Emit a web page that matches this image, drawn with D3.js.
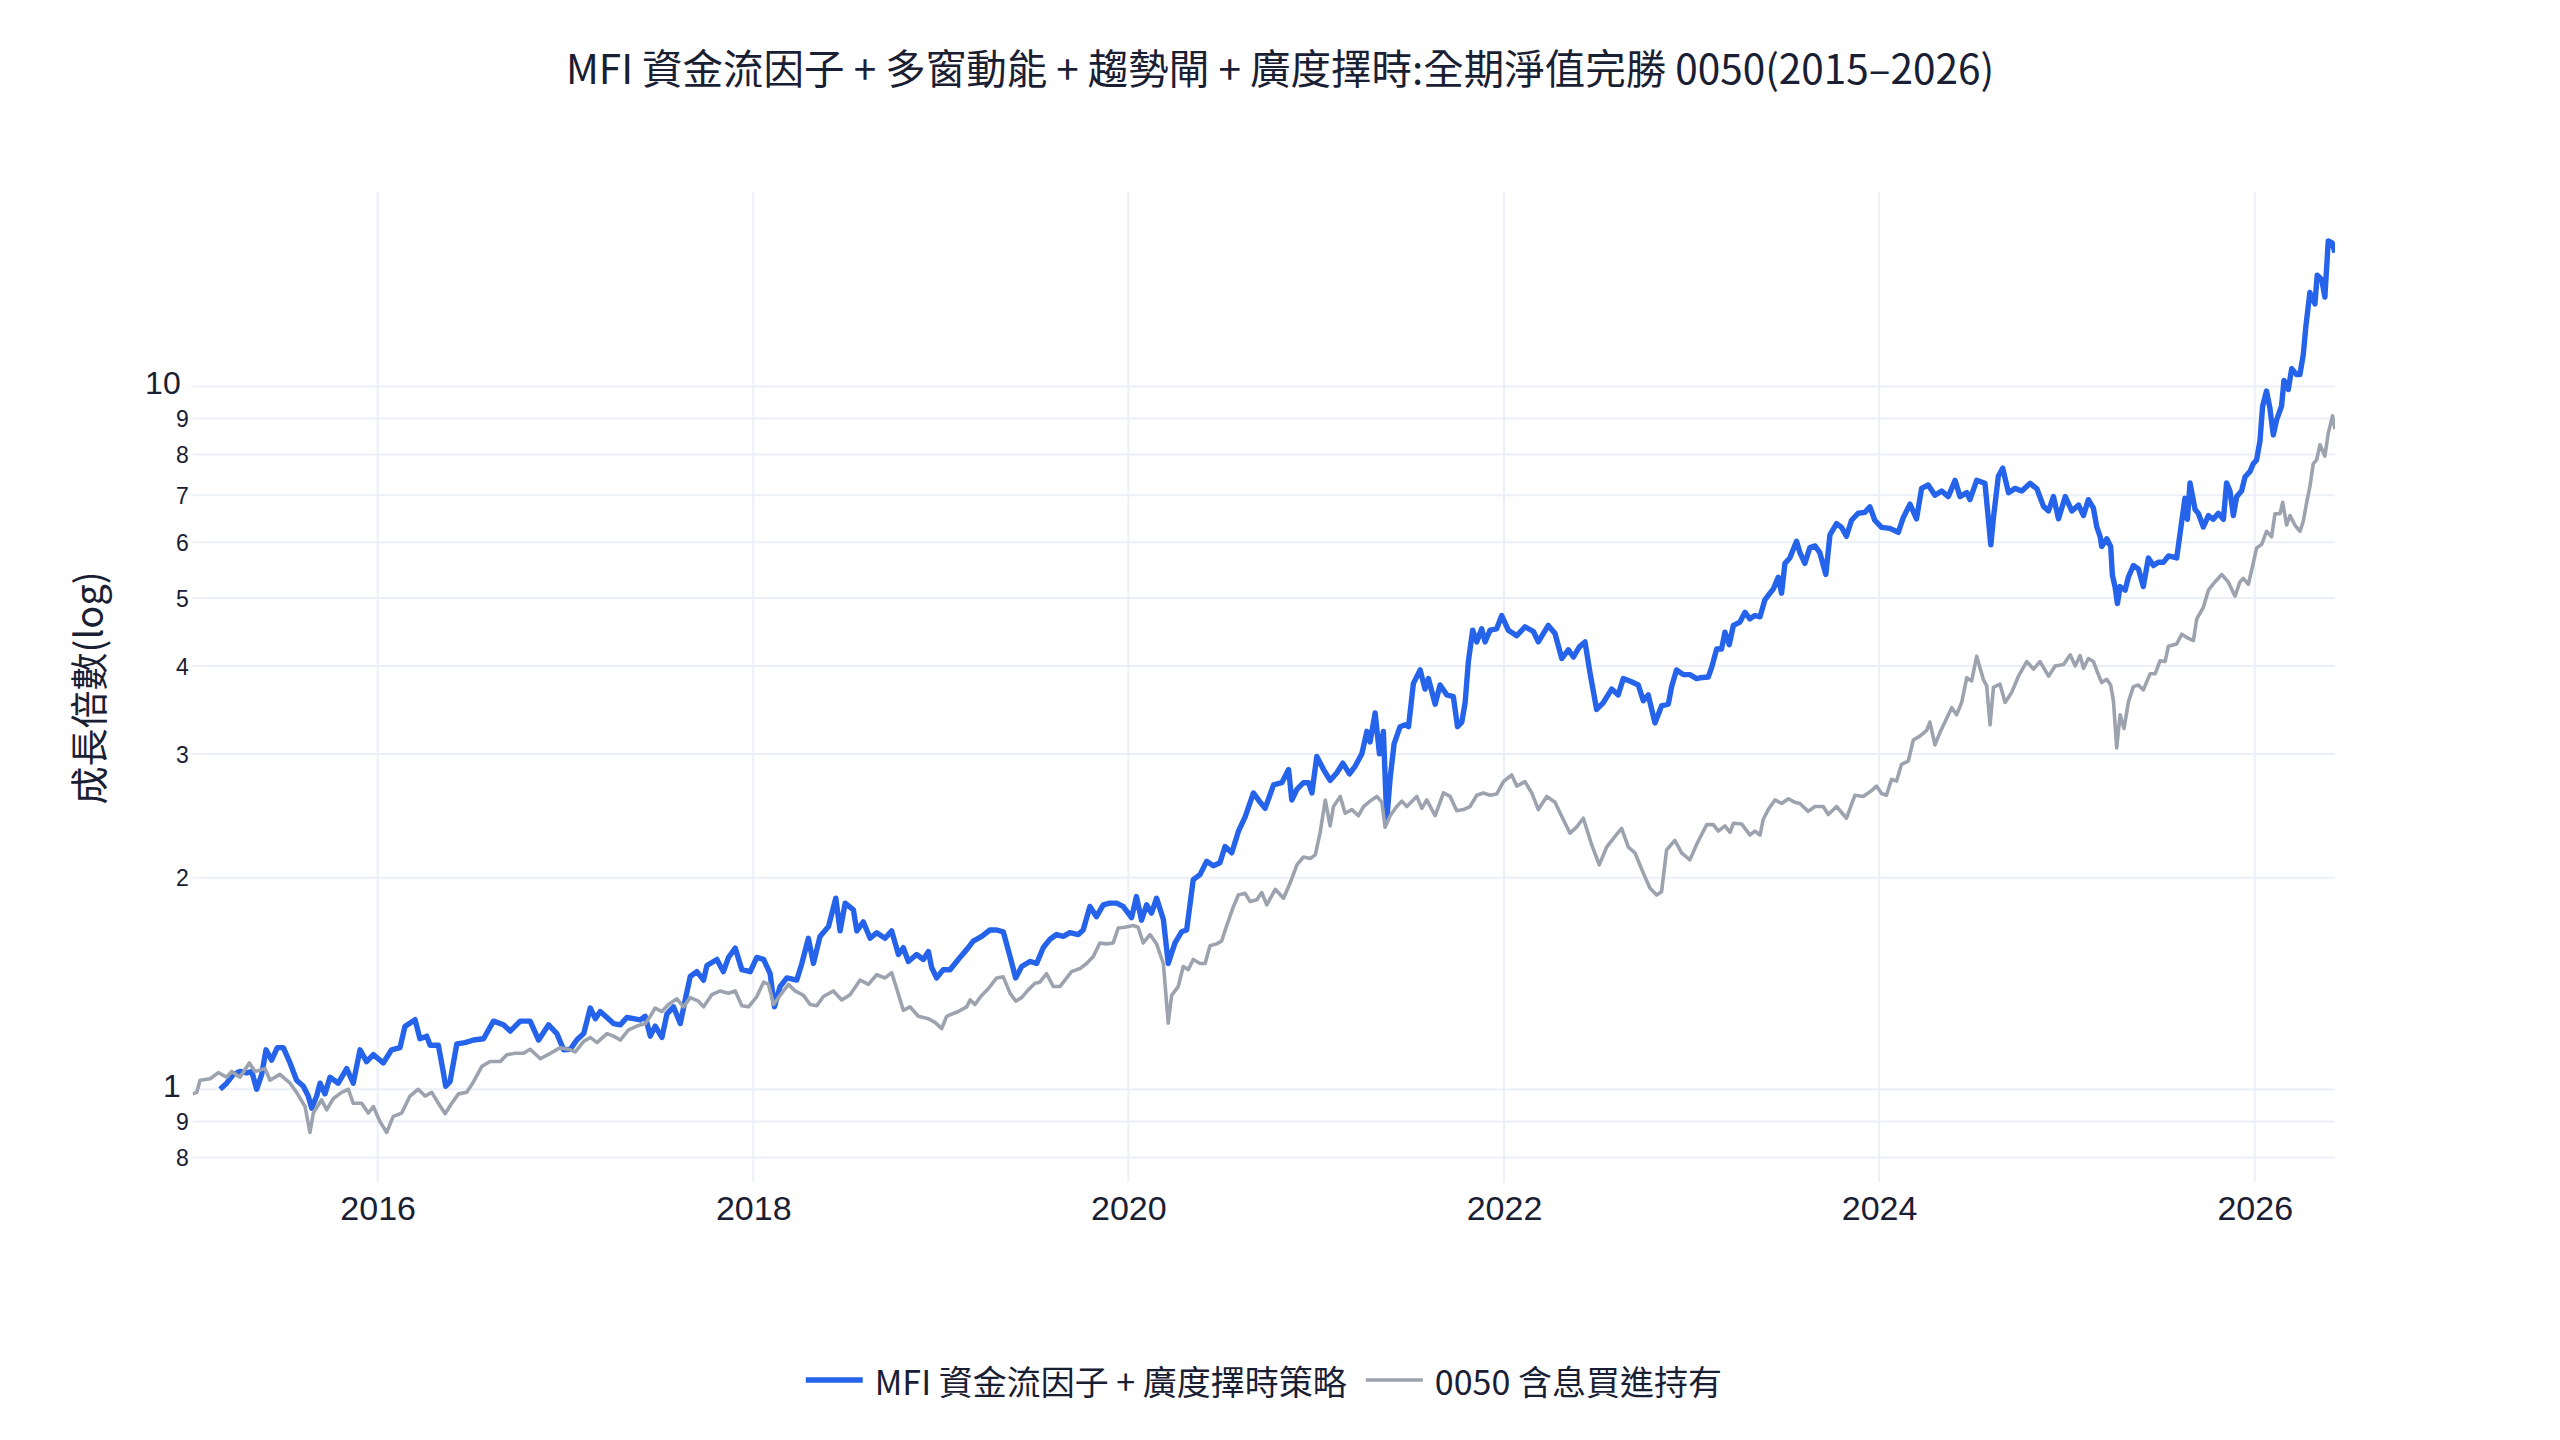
<!DOCTYPE html>
<html><head><meta charset="utf-8">
<script src="https://cdn.jsdelivr.net/npm/d3@7"></script>
<style>html,body{margin:0;padding:0;background:#fff;} svg{display:block;}</style>
</head><body>
<svg id="chart" width="2560" height="1440"></svg>
<script>
const titleText = "MFI 資金流因子 + 多窗動能 + 趨勢閘 + 廣度擇時:全期淨值完勝 0050(2015–2026)";
const yTitleText = "成長倍數(log)";
const seriesNames = ["MFI 資金流因子 + 廣度擇時策略", "0050 含息買進持有"];
const seriesColors = ["#2563eb", "#9ca3af"];
const xTickYears = [2016, 2018, 2020, 2022, 2024, 2026];
const yMajorTicks = [1, 10];
const yMinorTicks = [0.8, 0.9, 2, 3, 4, 5, 6, 7, 8, 9];
const yDomain = [0.738, 18.93];

// [decimal year, growth multiple]
const strategy = [
[2015.160,1.00],[2015.195,1.02],[2015.231,1.05],[2015.266,1.06],[2015.302,1.055],[2015.329,1.06],[2015.355,1.00],[2015.382,1.05],[2015.405,1.138],[2015.435,1.10],[2015.465,1.146],[2015.497,1.146],[2015.533,1.09],[2015.568,1.03],[2015.604,1.01],[2015.630,0.978],[2015.648,0.94],[2015.675,0.978],[2015.693,1.02],[2015.719,0.985],[2015.746,1.04],[2015.790,1.02],[2015.835,1.07],[2015.870,1.02],[2015.906,1.138],[2015.941,1.095],[2015.977,1.12],[2016.030,1.09],[2016.074,1.138],[2016.119,1.146],[2016.145,1.228],[2016.199,1.256],[2016.225,1.18],[2016.261,1.19],[2016.279,1.155],[2016.323,1.155],[2016.350,1.055],[2016.362,1.01],[2016.385,1.025],[2016.421,1.16],[2016.465,1.165],[2016.510,1.175],[2016.563,1.18],[2016.616,1.25],[2016.669,1.235],[2016.705,1.21],[2016.758,1.25],[2016.811,1.25],[2016.856,1.175],[2016.909,1.235],[2016.953,1.2],[2016.989,1.138],
[2017.025,1.14],[2017.060,1.176],[2017.096,1.2],[2017.131,1.305],[2017.158,1.26],[2017.184,1.29],[2017.220,1.265],[2017.255,1.24],[2017.291,1.235],[2017.326,1.265],[2017.362,1.26],[2017.397,1.255],[2017.424,1.27],[2017.451,1.19],[2017.477,1.23],[2017.513,1.185],[2017.540,1.28],[2017.575,1.31],[2017.611,1.24],[2017.637,1.34],[2017.664,1.447],[2017.699,1.47],[2017.735,1.43],[2017.753,1.50],[2017.806,1.53],[2017.841,1.47],[2017.868,1.54],[2017.904,1.588],[2017.939,1.48],[2017.984,1.47],[2018.019,1.54],[2018.055,1.53],[2018.090,1.46],[2018.113,1.31],[2018.143,1.40],[2018.179,1.44],[2018.232,1.43],[2018.259,1.51],[2018.294,1.64],[2018.321,1.51],[2018.356,1.65],[2018.401,1.704],[2018.440,1.87],[2018.463,1.68],[2018.490,1.84],[2018.534,1.80],[2018.552,1.68],[2018.587,1.73],[2018.623,1.64],[2018.658,1.67],[2018.703,1.64],[2018.738,1.68],[2018.774,1.555],[2018.800,1.59],[2018.827,1.52],[2018.871,1.555],[2018.907,1.53],[2018.934,1.57],[2018.951,1.49],[2018.978,1.44],[2019.013,1.48],
[2019.049,1.479],[2019.093,1.53],[2019.138,1.58],[2019.173,1.625],[2019.218,1.65],[2019.262,1.685],[2019.298,1.685],[2019.333,1.675],[2019.369,1.545],[2019.399,1.44],[2019.431,1.495],[2019.475,1.52],[2019.511,1.51],[2019.546,1.59],[2019.582,1.635],[2019.617,1.66],[2019.653,1.65],[2019.688,1.67],[2019.733,1.66],[2019.759,1.685],[2019.795,1.82],[2019.830,1.76],[2019.866,1.83],[2019.901,1.84],[2019.937,1.84],[2019.972,1.82],[2020.017,1.755],[2020.043,1.88],[2020.070,1.74],[2020.097,1.83],[2020.123,1.78],[2020.150,1.87],[2020.186,1.745],[2020.212,1.51],[2020.248,1.615],[2020.283,1.675],[2020.310,1.685],[2020.345,1.987],[2020.381,2.02],[2020.416,2.11],[2020.452,2.08],[2020.487,2.10],[2020.514,2.215],[2020.550,2.17],[2020.585,2.327],[2020.621,2.44],[2020.665,2.64],[2020.701,2.56],[2020.727,2.51],[2020.772,2.71],[2020.816,2.73],[2020.852,2.85],[2020.869,2.58],[2020.896,2.67],[2020.931,2.73],[2020.958,2.73],[2020.976,2.64],[2021.002,2.975],[2021.038,2.85],[2021.073,2.75],
[2021.109,2.82],[2021.141,2.91],[2021.176,2.81],[2021.206,2.88],[2021.242,3.0],[2021.269,3.23],[2021.286,3.12],[2021.313,3.43],[2021.336,3.0],[2021.357,3.23],[2021.375,2.417],[2021.393,2.77],[2021.414,3.1],[2021.446,3.28],[2021.473,3.30],[2021.491,3.28],[2021.517,3.78],[2021.553,3.95],[2021.579,3.71],[2021.597,3.84],[2021.633,3.53],[2021.659,3.76],[2021.695,3.64],[2021.730,3.62],[2021.752,3.28],[2021.775,3.33],[2021.793,3.55],[2021.810,4.06],[2021.833,4.50],[2021.855,4.33],[2021.881,4.52],[2021.899,4.33],[2021.926,4.50],[2021.961,4.52],[2021.988,4.72],[2022.023,4.50],[2022.068,4.42],[2022.112,4.55],[2022.157,4.48],[2022.183,4.33],[2022.236,4.57],[2022.272,4.45],[2022.308,4.1],[2022.343,4.22],[2022.370,4.12],[2022.402,4.26],[2022.432,4.33],[2022.458,3.92],[2022.494,3.47],[2022.530,3.55],[2022.574,3.71],[2022.609,3.64],[2022.636,3.84],[2022.680,3.80],[2022.716,3.76],[2022.743,3.57],[2022.769,3.64],[2022.805,3.32],[2022.840,3.51],[2022.876,3.53],[2022.894,3.74],[2022.920,3.95],[2022.956,3.89],[2022.991,3.89],[2023.027,3.84],
[2023.045,3.85],[2023.089,3.86],[2023.107,3.98],[2023.134,4.23],[2023.160,4.23],[2023.178,4.47],[2023.201,4.29],[2023.223,4.57],[2023.258,4.62],[2023.285,4.77],[2023.311,4.67],[2023.338,4.72],[2023.365,4.70],[2023.391,4.97],[2023.418,5.08],[2023.436,5.15],[2023.462,5.35],[2023.480,5.08],[2023.498,5.6],[2023.524,5.7],[2023.560,6.02],[2023.578,5.8],[2023.604,5.6],[2023.631,5.9],[2023.658,5.93],[2023.684,5.8],[2023.716,5.4],[2023.738,6.15],[2023.773,6.38],[2023.800,6.3],[2023.826,6.12],[2023.853,6.45],[2023.889,6.6],[2023.924,6.62],[2023.951,6.74],[2023.977,6.45],[2024.013,6.3],[2024.057,6.28],[2024.102,6.2],[2024.128,6.5],[2024.164,6.8],[2024.199,6.48],[2024.226,7.16],[2024.261,7.24],[2024.297,7.0],[2024.333,7.1],[2024.368,6.97],[2024.404,7.35],[2024.430,6.97],[2024.466,7.06],[2024.483,6.9],[2024.519,7.35],[2024.563,7.28],[2024.594,5.95],[2024.608,6.5],[2024.634,7.45],[2024.657,7.65],[2024.688,7.06],[2024.723,7.16],[2024.759,7.1],[2024.803,7.28],[2024.839,7.15],[2024.874,6.75],[2024.901,6.65],[2024.927,6.97],[2024.954,6.48],[2024.990,6.97],[2025.025,6.65],[2025.061,6.78],
[2025.087,6.55],[2025.113,6.9],[2025.140,6.71],[2025.158,6.31],[2025.176,6.11],[2025.184,5.92],[2025.211,6.07],[2025.232,5.92],[2025.241,5.39],[2025.255,5.19],[2025.268,4.91],[2025.282,5.19],[2025.309,5.13],[2025.327,5.36],[2025.353,5.56],[2025.380,5.5],[2025.406,5.19],[2025.433,5.70],[2025.460,5.56],[2025.486,5.62],[2025.513,5.62],[2025.540,5.74],[2025.584,5.70],[2025.611,6.43],[2025.628,6.93],[2025.641,6.47],[2025.655,7.29],[2025.682,6.68],[2025.699,6.6],[2025.726,6.31],[2025.753,6.55],[2025.779,6.47],[2025.806,6.6],[2025.833,6.47],[2025.850,7.29],[2025.868,7.1],[2025.886,6.55],[2025.904,6.97],[2025.930,7.1],[2025.948,7.43],[2025.975,7.57],[2025.992,7.76],[2026.010,7.86],[2026.028,8.37],[2026.042,9.37],[2026.063,9.85],[2026.081,9.31],[2026.099,8.53],[2026.117,8.97],[2026.143,9.37],[2026.156,10.2],[2026.179,9.9],[2026.197,10.6],[2026.223,10.4],[2026.241,10.4],[2026.259,11.1],[2026.273,12.2],[2026.294,13.6],[2026.321,13.1],[2026.333,14.4],[2026.357,14.2],[2026.374,13.4],[2026.392,16.1],[2026.413,16.0],[2026.428,15.5]
];

const benchmark = [
[2015.014,0.985],[2015.036,0.99],[2015.053,1.03],[2015.107,1.035],[2015.151,1.056],[2015.195,1.04],[2015.222,1.06],[2015.266,1.04],[2015.316,1.09],[2015.346,1.06],[2015.400,1.07],[2015.426,1.03],[2015.479,1.05],[2015.533,1.02],[2015.568,0.99],[2015.613,0.945],[2015.639,0.868],[2015.657,0.925],[2015.701,0.966],[2015.728,0.935],[2015.764,0.97],[2015.808,0.99],[2015.844,1.0],[2015.870,0.955],[2015.915,0.955],[2015.950,0.925],[2015.977,0.945],[2016.012,0.90],[2016.048,0.868],[2016.083,0.915],[2016.128,0.925],[2016.172,0.978],[2016.216,1.0],[2016.252,0.978],[2016.288,0.99],[2016.323,0.955],[2016.359,0.923],[2016.394,0.955],[2016.430,0.985],[2016.474,0.99],[2016.510,1.025],[2016.554,1.078],[2016.598,1.095],[2016.652,1.095],[2016.687,1.12],[2016.731,1.125],[2016.776,1.125],[2016.811,1.14],[2016.865,1.105],[2016.918,1.125],[2016.971,1.146],
[2017.025,1.138],[2017.051,1.13],[2017.096,1.17],[2017.131,1.185],[2017.167,1.165],[2017.220,1.20],[2017.255,1.19],[2017.291,1.175],[2017.335,1.215],[2017.380,1.23],[2017.424,1.24],[2017.451,1.27],[2017.477,1.305],[2017.513,1.29],[2017.548,1.32],[2017.593,1.345],[2017.628,1.31],[2017.664,1.35],[2017.708,1.335],[2017.735,1.31],[2017.779,1.363],[2017.824,1.38],[2017.868,1.37],[2017.904,1.38],[2017.939,1.315],[2017.975,1.31],[2018.019,1.355],[2018.055,1.42],[2018.081,1.41],[2018.108,1.32],[2018.152,1.37],[2018.188,1.41],[2018.223,1.38],[2018.268,1.36],[2018.303,1.32],[2018.339,1.315],[2018.374,1.355],[2018.427,1.38],[2018.472,1.34],[2018.516,1.363],[2018.570,1.43],[2018.614,1.41],[2018.658,1.455],[2018.703,1.44],[2018.738,1.465],[2018.765,1.39],[2018.800,1.295],[2018.836,1.31],[2018.880,1.27],[2018.934,1.26],[2018.969,1.245],[2019.005,1.22],[2019.031,1.27],
[2019.049,1.276],[2019.093,1.29],[2019.138,1.31],[2019.156,1.34],[2019.182,1.32],[2019.218,1.36],[2019.253,1.39],[2019.298,1.44],[2019.333,1.445],[2019.369,1.37],[2019.399,1.335],[2019.431,1.35],[2019.466,1.385],[2019.502,1.415],[2019.528,1.42],[2019.564,1.46],[2019.600,1.40],[2019.635,1.40],[2019.662,1.43],[2019.697,1.47],[2019.742,1.485],[2019.777,1.51],[2019.813,1.545],[2019.848,1.615],[2019.884,1.61],[2019.919,1.615],[2019.946,1.696],[2019.981,1.70],[2020.026,1.71],[2020.052,1.70],[2020.079,1.615],[2020.115,1.66],[2020.150,1.61],[2020.186,1.51],[2020.212,1.242],[2020.230,1.36],[2020.265,1.40],[2020.292,1.495],[2020.319,1.48],[2020.345,1.53],[2020.381,1.51],[2020.408,1.51],[2020.434,1.60],[2020.470,1.61],[2020.496,1.625],[2020.523,1.71],[2020.559,1.82],[2020.585,1.89],[2020.621,1.90],[2020.647,1.85],[2020.683,1.86],[2020.709,1.905],[2020.736,1.83],[2020.781,1.925],[2020.825,1.87],[2020.860,1.965],[2020.896,2.086],[2020.931,2.14],[2020.967,2.13],[2020.994,2.155],[2021.020,2.32],[2021.047,2.58],[2021.073,2.37],
[2021.091,2.525],[2021.127,2.61],[2021.153,2.47],[2021.189,2.5],[2021.224,2.45],[2021.251,2.525],[2021.286,2.57],[2021.322,2.61],[2021.349,2.56],[2021.366,2.36],[2021.393,2.45],[2021.428,2.525],[2021.455,2.57],[2021.482,2.525],[2021.535,2.61],[2021.562,2.51],[2021.588,2.58],[2021.633,2.45],[2021.677,2.64],[2021.713,2.61],[2021.748,2.49],[2021.784,2.50],[2021.819,2.525],[2021.855,2.62],[2021.890,2.64],[2021.926,2.62],[2021.961,2.63],[2021.997,2.74],[2022.041,2.80],[2022.068,2.70],[2022.112,2.74],[2022.148,2.64],[2022.183,2.5],[2022.228,2.61],[2022.272,2.56],[2022.316,2.42],[2022.352,2.314],[2022.387,2.36],[2022.423,2.43],[2022.467,2.23],[2022.508,2.086],[2022.547,2.21],[2022.592,2.29],[2022.627,2.35],[2022.663,2.21],[2022.698,2.17],[2022.743,2.03],[2022.778,1.933],[2022.814,1.89],[2022.840,1.91],[2022.867,2.19],[2022.911,2.26],[2022.947,2.17],[2022.991,2.12],[2023.027,2.23],
[2023.045,2.28],[2023.081,2.38],[2023.116,2.38],[2023.143,2.33],[2023.178,2.37],[2023.205,2.32],[2023.223,2.39],[2023.267,2.385],[2023.311,2.30],[2023.338,2.33],[2023.365,2.30],[2023.382,2.42],[2023.409,2.50],[2023.445,2.58],[2023.480,2.55],[2023.516,2.59],[2023.551,2.56],[2023.578,2.55],[2023.622,2.485],[2023.658,2.525],[2023.702,2.525],[2023.729,2.46],[2023.773,2.525],[2023.826,2.43],[2023.871,2.62],[2023.915,2.61],[2023.960,2.66],[2023.986,2.70],[2024.013,2.635],[2024.039,2.62],[2024.066,2.76],[2024.093,2.745],[2024.119,2.90],[2024.155,2.93],[2024.182,3.14],[2024.217,3.18],[2024.253,3.24],[2024.270,3.33],[2024.297,3.09],[2024.324,3.22],[2024.359,3.37],[2024.386,3.49],[2024.412,3.41],[2024.439,3.55],[2024.466,3.85],[2024.492,3.81],[2024.519,4.13],[2024.554,3.83],[2024.572,3.75],[2024.590,3.30],[2024.608,3.73],[2024.643,3.77],[2024.670,3.55],[2024.705,3.67],[2024.741,3.87],[2024.785,4.06],[2024.821,3.96],[2024.856,4.06],[2024.901,3.87],[2024.936,4.0],[2024.981,4.02],[2025.016,4.15],[2025.043,4.0],
[2025.069,4.14],[2025.087,3.97],[2025.113,4.1],[2025.140,4.06],[2025.158,3.94],[2025.184,3.79],[2025.211,3.83],[2025.232,3.76],[2025.247,3.56],[2025.264,3.06],[2025.282,3.41],[2025.303,3.26],[2025.327,3.56],[2025.353,3.74],[2025.380,3.76],[2025.406,3.70],[2025.442,3.90],[2025.469,3.90],[2025.495,4.07],[2025.522,4.06],[2025.540,4.27],[2025.584,4.3],[2025.611,4.44],[2025.646,4.38],[2025.673,4.35],[2025.691,4.67],[2025.726,4.85],[2025.753,5.13],[2025.788,5.27],[2025.824,5.4],[2025.859,5.27],[2025.895,5.03],[2025.921,5.27],[2025.939,5.33],[2025.966,5.23],[2025.992,5.60],[2026.010,5.89],[2026.037,5.96],[2026.063,6.22],[2026.090,6.11],[2026.108,6.59],[2026.135,6.59],[2026.149,6.84],[2026.170,6.35],[2026.188,6.55],[2026.214,6.35],[2026.241,6.22],[2026.259,6.43],[2026.277,6.84],[2026.294,7.2],[2026.312,7.76],[2026.330,7.86],[2026.348,8.26],[2026.374,7.96],[2026.392,8.58],[2026.415,9.08],[2026.428,8.69]
];

function toDate(t) {
  const y = Math.floor(t);
  const a = new Date(y, 0, 1), b = new Date(y + 1, 0, 1);
  return new Date(+a + (t - y) * (b - a));
}

const W = 2560, H = 1440;
const plot = { left: 192.7, right: 2335, top: 191.6, bottom: 1182 };
const FONT = '"Noto Sans CJK TC", "Liberation Sans", sans-serif';
const NUMFONT = '"Liberation Sans", Arial, sans-serif';
const TEXT = "#1a2033";
const GRID = "#ebf0f8";

const svg = d3.select("#chart");
svg.append("rect").attr("width", W).attr("height", H).attr("fill", "#fff");

const allT = strategy.concat(benchmark).map(d => d[0]);
const x = d3.scaleTime().domain(d3.extent(allT).map(toDate)).range([plot.left, plot.right]);
const y = d3.scaleLog().domain(yDomain).range([plot.bottom, plot.top]);

// grid
const grid = svg.append("g");
grid.selectAll("line.vg").data(xTickYears).join("line")
  .attr("x1", d => x(new Date(d, 0, 1))).attr("x2", d => x(new Date(d, 0, 1)))
  .attr("y1", plot.top).attr("y2", plot.bottom)
  .attr("stroke", GRID).attr("stroke-width", 2);
grid.selectAll("line.hg").data(yMajorTicks.concat(yMinorTicks)).join("line")
  .attr("x1", plot.left).attr("x2", plot.right)
  .attr("y1", d => y(d)).attr("y2", d => y(d))
  .attr("stroke", GRID).attr("stroke-width", 2);

// x axis labels
const xAxis = d3.axisBottom(x).tickValues(xTickYears.map(yr => new Date(yr, 0, 1)))
  .tickFormat(d3.timeFormat("%Y")).tickSize(0).tickPadding(0);
const gx = svg.append("g").attr("transform", `translate(0,${plot.bottom})`).call(xAxis);
gx.select(".domain").remove();
gx.selectAll("text").attr("font-family", NUMFONT).attr("font-size", 34).attr("fill", TEXT)
  .attr("dy", null).attr("y", 38);

// y axis labels
const yAxisMajor = d3.axisLeft(y).tickValues(yMajorTicks).tickFormat(d3.format("d")).tickSize(0).tickPadding(0);
const gyM = svg.append("g").attr("transform", `translate(${plot.left - 12},0)`).call(yAxisMajor);
gyM.select(".domain").remove();
gyM.selectAll("text").attr("font-family", NUMFONT).attr("font-size", 32).attr("fill", TEXT).attr("dy", "0.22em");

const yAxisMinor = d3.axisLeft(y).tickValues(yMinorTicks)
  .tickFormat(d => String(Math.round(d / Math.pow(10, Math.floor(Math.log10(d) + 1e-9)))))
  .tickSize(0).tickPadding(0);
const gym = svg.append("g").attr("transform", `translate(${plot.left - 4},0)`).call(yAxisMinor);
gym.select(".domain").remove();
gym.selectAll("text").attr("font-family", NUMFONT).attr("font-size", 23).attr("fill", TEXT).attr("dy", "0.36em");

// lines
const line = d3.line().x(d => x(toDate(d[0]))).y(d => y(d[1]));
const clip = svg.append("clipPath").attr("id", "clip").append("rect")
  .attr("x", plot.left).attr("y", plot.top).attr("width", plot.right - plot.left).attr("height", plot.bottom - plot.top);
const gl = svg.append("g").attr("clip-path", "url(#clip)");
gl.append("path").datum(strategy).attr("d", line).attr("fill", "none")
  .attr("stroke", seriesColors[0]).attr("stroke-width", 5.4).attr("stroke-linejoin", "round");
gl.append("path").datum(benchmark).attr("d", line).attr("fill", "none")
  .attr("stroke", seriesColors[1]).attr("stroke-width", 3.6).attr("stroke-linejoin", "round");

// title
svg.append("text").attr("x", 1280).attr("y", 66).attr("text-anchor", "middle")
  .attr("dominant-baseline", "central").attr("font-family", FONT).attr("font-size", 40.5)
  .attr("fill", TEXT).text(titleText);

// y title
svg.append("text").attr("transform", `translate(86,688) rotate(-90)`).attr("text-anchor", "middle")
  .attr("dominant-baseline", "central").attr("font-family", FONT).attr("font-size", 38)
  .attr("fill", TEXT).text(yTitleText);

// legend
const lg = svg.append("g");
const legY = 1380;
const items = seriesNames.map((name, i) => {
  const t = lg.append("text").attr("font-family", FONT).attr("font-size", 34).attr("fill", TEXT)
    .attr("dominant-baseline", "central").attr("y", legY).text(name);
  return { t, w: t.node().getComputedTextLength(), color: seriesColors[i], sw: i === 0 ? 5.4 : 3.6 };
});
const sample = 57, gap1 = 12, gap2 = 19;
const total = items.reduce((s, it) => s + sample + gap1 + it.w, 0) + gap2 * (items.length - 1);
let cx = (plot.left + plot.right) / 2 - total / 2;
items.forEach(it => {
  lg.append("line").attr("x1", cx).attr("x2", cx + sample).attr("y1", legY).attr("y2", legY)
    .attr("stroke", it.color).attr("stroke-width", it.sw);
  it.t.attr("x", cx + sample + gap1);
  cx += sample + gap1 + it.w + gap2;
});
</script>
</body></html>
